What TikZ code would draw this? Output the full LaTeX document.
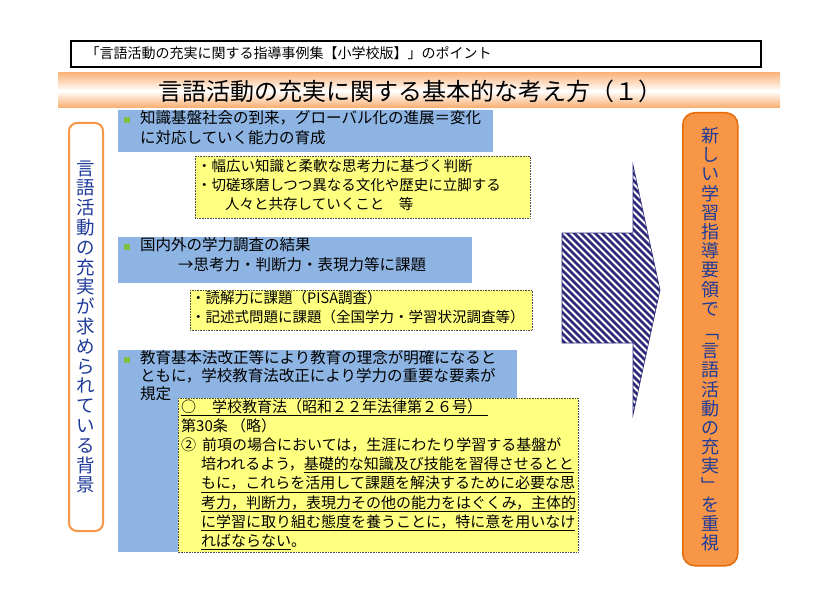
\documentclass[tikz,border=0pt]{standalone}
\usepackage{fontspec}
\setmainfont{Noto Sans CJK JP}
\usetikzlibrary{shadings}
\definecolor{bluebox}{HTML}{8DB4E2}
\definecolor{yell}{HTML}{FFFF80}
\definecolor{orng}{HTML}{F79646}
\definecolor{orngd}{HTML}{E46C0A}
\definecolor{txtblue}{HTML}{1F3B99}
\definecolor{stripe}{HTML}{2E2A7A}
\definecolor{bullet}{HTML}{7CC242}
\tikzset{
 bluebg/.style={fill=bluebox,draw=none},
 yelbox/.style={fill=yell,draw=black!70,densely dotted,line width=0.6pt},
 txt/.style={anchor=north west,align=left,inner sep=0pt,font=\fontsize{15.5}{20}\selectfont},
 ytxt/.style={anchor=north west,align=left,inner sep=0pt,font=\fontsize{14.5}{19}\selectfont},
 bul/.style={fill=bullet,minimum size=6pt,inner sep=0pt}
}
\begin{document}
\begin{tikzpicture}[x=1pt,y=-1pt]
\useasboundingbox (0,0) rectangle (838,591);
\fill[white] (0,0) rectangle (838,591);
% header
\node[draw=black,line width=1.6pt,minimum width=690pt,minimum height=26pt,anchor=north west,inner sep=0pt] (hdr) at (70,40) {};
\node[anchor=west,font=\fontsize{14}{16}\selectfont] (hdrt) at (82,53) {「言語活動の充実に関する指導事例集【小学校版】」のポイント};
% title band
\shade[top color=orng!70,bottom color=white] (58,73) rectangle (780,91);
\shade[top color=white,bottom color=orng!80] (58,91) rectangle (780,108);
\node[font=\fontsize{24}{26}\selectfont] (title) at (410,91) {言語活動の充実に関する基本的な考え方（１）};
% left box
\node[draw=orng,line width=2pt,rounded corners=8pt,fill=white,minimum width=34pt,minimum height=408pt,anchor=north west] (lbox) at (68,122) {};
\node[align=center,font=\fontsize{18.5}{19.8}\selectfont,text=txtblue,inner sep=0pt] (ltxt) at (lbox.center) {言\\語\\活\\動\\の\\充\\実\\が\\求\\め\\ら\\れ\\て\\い\\る\\背\\景};
% blue boxes
\fill[bluebg] (118,110) rectangle (493,152);
\fill[bluebg] (118,237) rectangle (472,283);
\fill[bluebg] (118,350) rectangle (517,552);
\node[bul] (b1) at (127,120) {};
\node[bul] (b2) at (127,247) {};
\node[bul] (b3) at (127,360) {};
\node[txt] (t1) at (140,110) {知識基盤社会の到来，グローバル化の進展＝変化\\に対応していく能力の育成};
\node[txt] (t2) at (140,237) {国内外の学力調査の結果\\\hspace{38pt}→思考力・判断力・表現力等に課題};
\node[txt,font=\fontsize{15.5}{18}\selectfont] (t3) at (140,350) {教育基本法改正等により教育の理念が明確になると\\ともに，学校教育法改正により学力の重要な要素が\\規定};
% yellow boxes
\filldraw[yelbox] (195,156) rectangle (530,218);
\node[ytxt] (y1) at (197,159) {・幅広い知識と柔軟な思考力に基づく判断\\・切磋琢磨しつつ異なる文化や歴史に立脚する\\\hspace{28pt}人々と共存していくこと　等};
\filldraw[yelbox] (190,290) rectangle (532,330);
\node[ytxt] (y2) at (191,291) {・読解力に課題（PISA調査）\\・記述式問題に課題（全国学力・学習状況調査等）};
\filldraw[yelbox] (178,398) rectangle (578,552);
\node[txt,font=\fontsize{15}{19.2}\selectfont] (y3) at (181,399) {\underline{○\hspace{16pt}学校教育法（昭和２２年法律第２６号）\hspace{6pt}}\\第30条 （略）\\②\hspace{6pt}前項の場合においては，生涯にわたり学習する基盤が\\\hspace{20pt}培われるよう，\underline{基礎的な知識及び技能を習得させるとと}\\\hspace{20pt}\underline{もに，これらを活用して課題を解決するために必要な思}\\\hspace{20pt}\underline{考力，判断力，表現力その他の能力をはぐくみ，主体的}\\\hspace{20pt}\underline{に学習に取り組む態度を養うことに，特に意を用いなけ}\\\hspace{20pt}\underline{ればならない}。};
% arrow
\begin{scope}
\clip (562,233) -- (633,233) -- (633,165) -- (660,290) -- (633,415) -- (633,343) -- (562,343) -- cycle;
\foreach \i in {0,...,70} {
  \draw[stripe,line width=2.6pt] (330+\i*7,150) -- ++(300,300);
}
\end{scope}
\draw[stripe,line width=0.6pt] (562,233) -- (633,233) -- (633,165) -- (660,290) -- (633,415) -- (633,343) -- (562,343) -- cycle;
% right box
\node[draw=orngd,line width=1.5pt,rounded corners=12pt,fill=orng,minimum width=55pt,minimum height=453pt,anchor=north west] (rbox) at (682,112) {};
\node[align=center,font=\fontsize{18}{19.2}\selectfont,text=txtblue,inner sep=0pt] (rtxt) at (rbox.center) {新\\し\\い\\学\\習\\指\\導\\要\\領\\で\\[4pt]﹁\\言\\語\\活\\動\\の\\充\\実\\﹂\\を\\重\\視};
\end{tikzpicture}
\end{document}
